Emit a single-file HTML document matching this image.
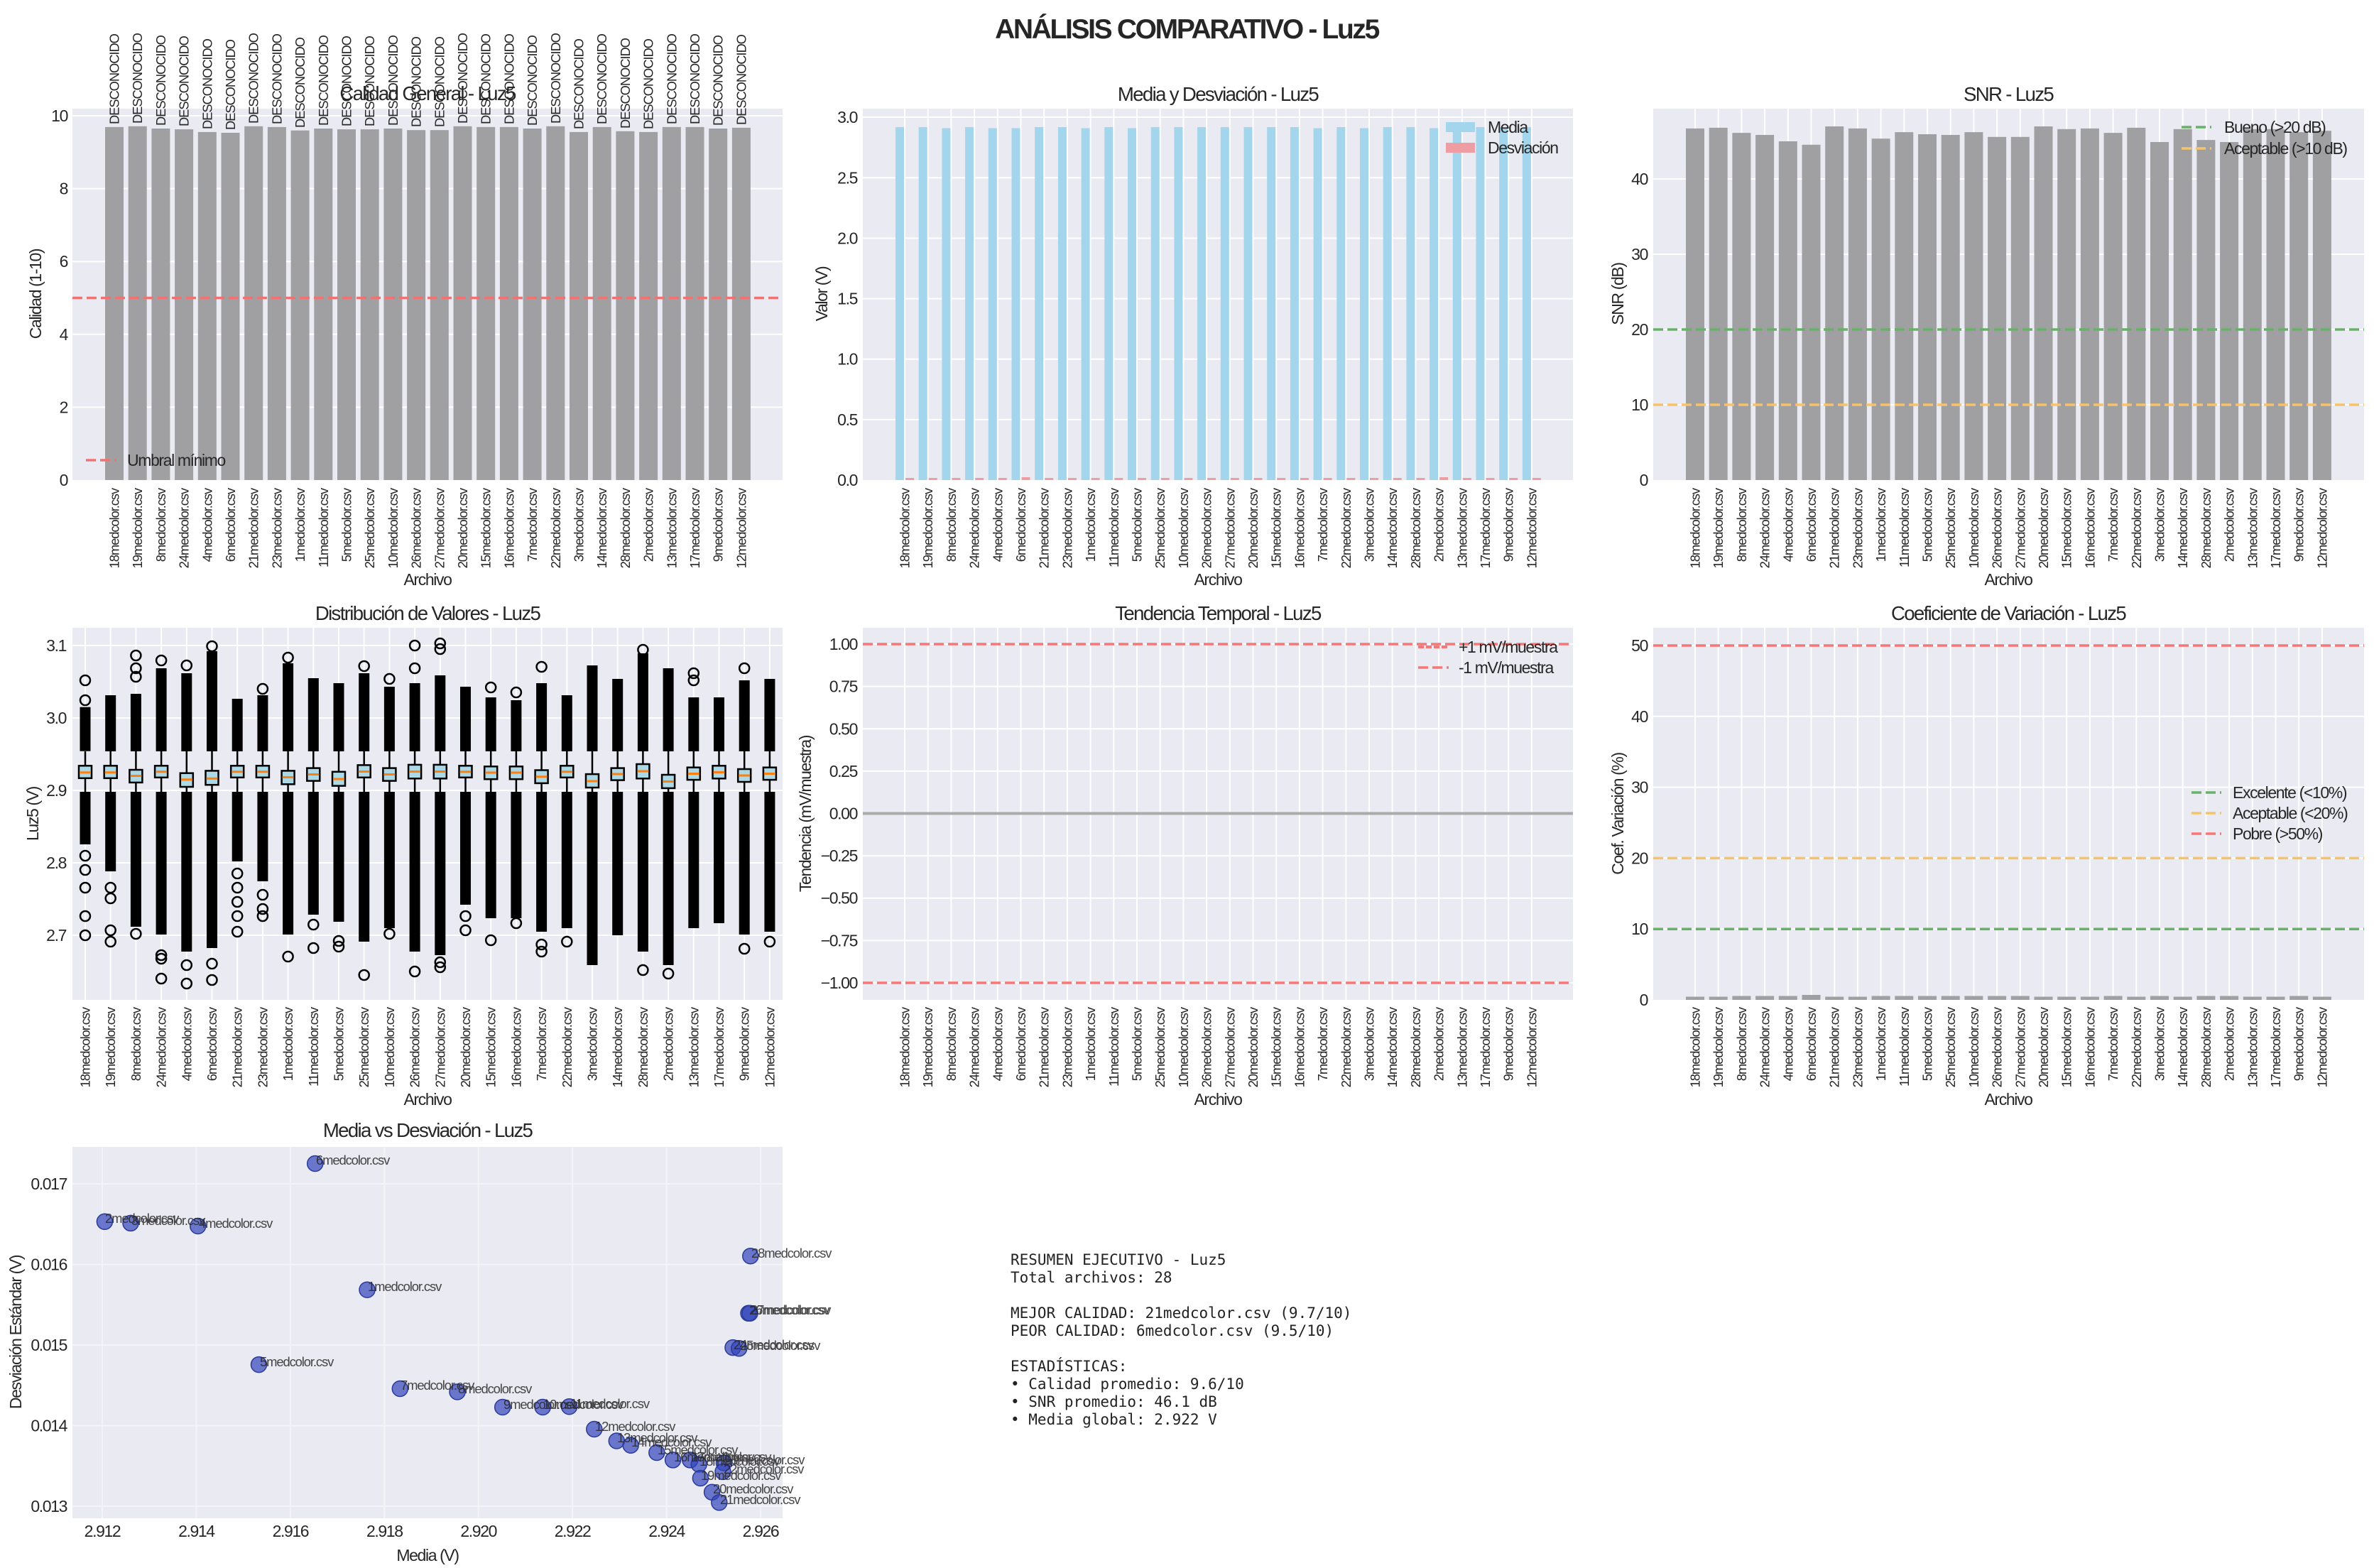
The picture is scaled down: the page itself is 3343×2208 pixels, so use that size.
<!DOCTYPE html>
<html><head><meta charset="utf-8"><style>
body{margin:0;background:#fff}
svg{display:block}
text{font-family:"Liberation Sans Narrow","Liberation Sans",sans-serif;fill:#262626;letter-spacing:-0.06em}
.tk{font-size:23px}
.yt{font-size:23px;text-anchor:end;dominant-baseline:central}
.xl{font-size:18.4px;text-anchor:end;dominant-baseline:central}
.dc{font-size:18.4px;text-anchor:start;dominant-baseline:central}
.ttl{font-size:27.6px;text-anchor:middle}
.lab{font-size:23px;text-anchor:middle}
.lg{font-size:23px;dominant-baseline:central}
.an{font-size:18.4px;fill:#555;opacity:.85}
.mono text{font-family:"DejaVu Sans Mono","Liberation Mono",monospace;font-size:21px;fill:#222;letter-spacing:0}
.g{stroke:#fff;stroke-width:2}
.bar{fill:#a0a0a3}
</style></head><body>
<svg width="3343" height="2208" viewBox="0 0 3343 2208" xmlns="http://www.w3.org/2000/svg">
<text x="1671" y="54" text-anchor="middle" style="font-size:39px;font-weight:bold">ANÁLISIS COMPARATIVO - Luz5</text>

<!-- ===== Panel A: Calidad ===== -->
<rect x="102" y="153" width="1000" height="523" fill="#eaeaf2"/>
<g class="g">
<line x1="102" x2="1102" y1="573.4" y2="573.4"/><line x1="102" x2="1102" y1="470.8" y2="470.8"/><line x1="102" x2="1102" y1="368.2" y2="368.2"/><line x1="102" x2="1102" y1="265.6" y2="265.6"/><line x1="102" x2="1102" y1="163" y2="163"/>
</g>
<g class="bar">
<rect x="148" y="178.9" width="26" height="497.1"/><rect x="180.7" y="177.8" width="26" height="498.2"/><rect x="213.4" y="181" width="26" height="495"/><rect x="246.1" y="182.1" width="26" height="493.9"/><rect x="278.8" y="185.9" width="26" height="490.1"/><rect x="311.5" y="187" width="26" height="489"/><rect x="344.2" y="177.8" width="26" height="498.2"/><rect x="376.9" y="178.9" width="26" height="497.1"/><rect x="409.6" y="183.7" width="26" height="492.3"/><rect x="442.3" y="181" width="26" height="495"/><rect x="475" y="182.1" width="26" height="493.9"/><rect x="507.7" y="182.1" width="26" height="493.9"/><rect x="540.4" y="181" width="26" height="495"/><rect x="573.1" y="183.2" width="26" height="492.8"/><rect x="605.8" y="183.2" width="26" height="492.8"/><rect x="638.5" y="177.8" width="26" height="498.2"/><rect x="671.2" y="178.9" width="26" height="497.1"/><rect x="703.9" y="178.9" width="26" height="497.1"/><rect x="736.6" y="181" width="26" height="495"/><rect x="769.3" y="177.8" width="26" height="498.2"/><rect x="802" y="185.9" width="26" height="490.1"/><rect x="834.7" y="178.9" width="26" height="497.1"/><rect x="867.4" y="184.8" width="26" height="491.2"/><rect x="900.1" y="185.9" width="26" height="490.1"/><rect x="932.8" y="178.9" width="26" height="497.1"/><rect x="965.5" y="178.9" width="26" height="497.1"/><rect x="998.2" y="181" width="26" height="495"/><rect x="1030.9" y="179.9" width="26" height="496.1"/>
</g>
<line x1="102" x2="1102" y1="419.5" y2="419.5" stroke="#f07272" stroke-width="3.5" stroke-dasharray="14,6"/>
<g class="dc">
<text transform="translate(161,175) rotate(-90)">DESCONOCIDO</text><text transform="translate(193.7,174) rotate(-90)">DESCONOCIDO</text><text transform="translate(226.4,177) rotate(-90)">DESCONOCIDO</text><text transform="translate(259.1,178) rotate(-90)">DESCONOCIDO</text><text transform="translate(291.8,182) rotate(-90)">DESCONOCIDO</text><text transform="translate(324.5,183) rotate(-90)">DESCONOCIDO</text><text transform="translate(357.2,174) rotate(-90)">DESCONOCIDO</text><text transform="translate(389.9,175) rotate(-90)">DESCONOCIDO</text><text transform="translate(422.6,180) rotate(-90)">DESCONOCIDO</text><text transform="translate(455.3,177) rotate(-90)">DESCONOCIDO</text><text transform="translate(488,178) rotate(-90)">DESCONOCIDO</text><text transform="translate(520.7,178) rotate(-90)">DESCONOCIDO</text><text transform="translate(553.4,177) rotate(-90)">DESCONOCIDO</text><text transform="translate(586.1,179) rotate(-90)">DESCONOCIDO</text><text transform="translate(618.8,179) rotate(-90)">DESCONOCIDO</text><text transform="translate(651.5,174) rotate(-90)">DESCONOCIDO</text><text transform="translate(684.2,175) rotate(-90)">DESCONOCIDO</text><text transform="translate(716.9,175) rotate(-90)">DESCONOCIDO</text><text transform="translate(749.6,177) rotate(-90)">DESCONOCIDO</text><text transform="translate(782.3,174) rotate(-90)">DESCONOCIDO</text><text transform="translate(815,182) rotate(-90)">DESCONOCIDO</text><text transform="translate(847.7,175) rotate(-90)">DESCONOCIDO</text><text transform="translate(880.4,181) rotate(-90)">DESCONOCIDO</text><text transform="translate(913.1,182) rotate(-90)">DESCONOCIDO</text><text transform="translate(945.8,175) rotate(-90)">DESCONOCIDO</text><text transform="translate(978.5,175) rotate(-90)">DESCONOCIDO</text><text transform="translate(1011.2,177) rotate(-90)">DESCONOCIDO</text><text transform="translate(1043.9,176) rotate(-90)">DESCONOCIDO</text>
</g>
<text class="ttl" x="602" y="141">Calidad General - Luz5</text>
<g class="yt"><text x="95" y="676">0</text><text x="95" y="573.4">2</text><text x="95" y="470.8">4</text><text x="95" y="368.2">6</text><text x="95" y="265.6">8</text><text x="95" y="163">10</text></g>
<text class="lab" transform="translate(50,414) rotate(-90)" dominant-baseline="central">Calidad (1-10)</text>
<text class="lab" x="602" y="824">Archivo</text>
<line x1="121" x2="164" y1="648" y2="648" stroke="#f07272" stroke-width="3.5" stroke-dasharray="14,6"/>
<text class="lg" x="179" y="648">Umbral mínimo</text>
<g class="xl">
<text transform="translate(161,688) rotate(-90)">18medcolor.csv</text><text transform="translate(193.7,688) rotate(-90)">19medcolor.csv</text><text transform="translate(226.4,688) rotate(-90)">8medcolor.csv</text><text transform="translate(259.1,688) rotate(-90)">24medcolor.csv</text><text transform="translate(291.8,688) rotate(-90)">4medcolor.csv</text><text transform="translate(324.5,688) rotate(-90)">6medcolor.csv</text><text transform="translate(357.2,688) rotate(-90)">21medcolor.csv</text><text transform="translate(389.9,688) rotate(-90)">23medcolor.csv</text><text transform="translate(422.6,688) rotate(-90)">1medcolor.csv</text><text transform="translate(455.3,688) rotate(-90)">11medcolor.csv</text><text transform="translate(488,688) rotate(-90)">5medcolor.csv</text><text transform="translate(520.7,688) rotate(-90)">25medcolor.csv</text><text transform="translate(553.4,688) rotate(-90)">10medcolor.csv</text><text transform="translate(586.1,688) rotate(-90)">26medcolor.csv</text><text transform="translate(618.8,688) rotate(-90)">27medcolor.csv</text><text transform="translate(651.5,688) rotate(-90)">20medcolor.csv</text><text transform="translate(684.2,688) rotate(-90)">15medcolor.csv</text><text transform="translate(716.9,688) rotate(-90)">16medcolor.csv</text><text transform="translate(749.6,688) rotate(-90)">7medcolor.csv</text><text transform="translate(782.3,688) rotate(-90)">22medcolor.csv</text><text transform="translate(815,688) rotate(-90)">3medcolor.csv</text><text transform="translate(847.7,688) rotate(-90)">14medcolor.csv</text><text transform="translate(880.4,688) rotate(-90)">28medcolor.csv</text><text transform="translate(913.1,688) rotate(-90)">2medcolor.csv</text><text transform="translate(945.8,688) rotate(-90)">13medcolor.csv</text><text transform="translate(978.5,688) rotate(-90)">17medcolor.csv</text><text transform="translate(1011.2,688) rotate(-90)">9medcolor.csv</text><text transform="translate(1043.9,688) rotate(-90)">12medcolor.csv</text>
</g>

<!-- ===== Panel B: Media y Desviación ===== -->
<rect x="1215" y="153" width="1000" height="523" fill="#eaeaf2"/>
<g class="g">
<line x1="1215" x2="2215" y1="590.9" y2="590.9"/><line x1="1215" x2="2215" y1="505.7" y2="505.7"/><line x1="1215" x2="2215" y1="420.6" y2="420.6"/><line x1="1215" x2="2215" y1="335.4" y2="335.4"/><line x1="1215" x2="2215" y1="250.3" y2="250.3"/><line x1="1215" x2="2215" y1="165" y2="165"/>
<line x1="1274" x2="1274" y1="153" y2="676"/><line x1="1306.7" x2="1306.7" y1="153" y2="676"/><line x1="1339.4" x2="1339.4" y1="153" y2="676"/><line x1="1372.1" x2="1372.1" y1="153" y2="676"/><line x1="1404.8" x2="1404.8" y1="153" y2="676"/><line x1="1437.5" x2="1437.5" y1="153" y2="676"/><line x1="1470.2" x2="1470.2" y1="153" y2="676"/><line x1="1502.9" x2="1502.9" y1="153" y2="676"/><line x1="1535.6" x2="1535.6" y1="153" y2="676"/><line x1="1568.3" x2="1568.3" y1="153" y2="676"/><line x1="1601" x2="1601" y1="153" y2="676"/><line x1="1633.7" x2="1633.7" y1="153" y2="676"/><line x1="1666.4" x2="1666.4" y1="153" y2="676"/><line x1="1699.1" x2="1699.1" y1="153" y2="676"/><line x1="1731.8" x2="1731.8" y1="153" y2="676"/><line x1="1764.5" x2="1764.5" y1="153" y2="676"/><line x1="1797.2" x2="1797.2" y1="153" y2="676"/><line x1="1829.9" x2="1829.9" y1="153" y2="676"/><line x1="1862.6" x2="1862.6" y1="153" y2="676"/><line x1="1895.3" x2="1895.3" y1="153" y2="676"/><line x1="1928" x2="1928" y1="153" y2="676"/><line x1="1960.7" x2="1960.7" y1="153" y2="676"/><line x1="1993.4" x2="1993.4" y1="153" y2="676"/><line x1="2026.1" x2="2026.1" y1="153" y2="676"/><line x1="2058.8" x2="2058.8" y1="153" y2="676"/><line x1="2091.5" x2="2091.5" y1="153" y2="676"/><line x1="2124.2" x2="2124.2" y1="153" y2="676"/><line x1="2156.9" x2="2156.9" y1="153" y2="676"/>
</g>
<g fill="#a3d5ec">
<rect x="1261" y="179" width="12" height="497"/><rect x="1293.7" y="179" width="12" height="497"/><rect x="1326.4" y="180.5" width="12" height="495.5"/><rect x="1359.1" y="179" width="12" height="497"/><rect x="1391.8" y="180.5" width="12" height="495.5"/><rect x="1424.5" y="180.5" width="12" height="495.5"/><rect x="1457.2" y="179" width="12" height="497"/><rect x="1489.9" y="179" width="12" height="497"/><rect x="1522.6" y="180.5" width="12" height="495.5"/><rect x="1555.3" y="179" width="12" height="497"/><rect x="1588" y="180.5" width="12" height="495.5"/><rect x="1620.7" y="179" width="12" height="497"/><rect x="1653.4" y="179" width="12" height="497"/><rect x="1686.1" y="179" width="12" height="497"/><rect x="1718.8" y="179" width="12" height="497"/><rect x="1751.5" y="179" width="12" height="497"/><rect x="1784.2" y="179" width="12" height="497"/><rect x="1816.9" y="179" width="12" height="497"/><rect x="1849.6" y="180.5" width="12" height="495.5"/><rect x="1882.3" y="179" width="12" height="497"/><rect x="1915" y="180.5" width="12" height="495.5"/><rect x="1947.7" y="179" width="12" height="497"/><rect x="1980.4" y="179" width="12" height="497"/><rect x="2013.1" y="180.5" width="12" height="495.5"/><rect x="2045.8" y="179" width="12" height="497"/><rect x="2078.5" y="179" width="12" height="497"/><rect x="2111.2" y="179" width="12" height="497"/><rect x="2143.9" y="179" width="12" height="497"/>
</g>
<g fill="#ee9ea2">
<rect x="1275" y="673" width="12" height="3"/><rect x="1307.7" y="673" width="12" height="3"/><rect x="1340.4" y="673" width="12" height="3"/><rect x="1373.1" y="673" width="12" height="3"/><rect x="1405.8" y="673" width="12" height="3"/><rect x="1438.5" y="672" width="12" height="4"/><rect x="1471.2" y="673" width="12" height="3"/><rect x="1503.9" y="673" width="12" height="3"/><rect x="1536.6" y="673" width="12" height="3"/><rect x="1569.3" y="673" width="12" height="3"/><rect x="1602" y="673" width="12" height="3"/><rect x="1634.7" y="673" width="12" height="3"/><rect x="1667.4" y="673" width="12" height="3"/><rect x="1700.1" y="673" width="12" height="3"/><rect x="1732.8" y="673" width="12" height="3"/><rect x="1765.5" y="673" width="12" height="3"/><rect x="1798.2" y="673" width="12" height="3"/><rect x="1830.9" y="673" width="12" height="3"/><rect x="1863.6" y="673" width="12" height="3"/><rect x="1896.3" y="673" width="12" height="3"/><rect x="1929" y="673" width="12" height="3"/><rect x="1961.7" y="673" width="12" height="3"/><rect x="1994.4" y="673" width="12" height="3"/><rect x="2027.1" y="672" width="12" height="4"/><rect x="2059.8" y="673" width="12" height="3"/><rect x="2092.5" y="673" width="12" height="3"/><rect x="2125.2" y="673" width="12" height="3"/><rect x="2157.9" y="673" width="12" height="3"/>
</g>
<text class="ttl" x="1715" y="142">Media y Desviación - Luz5</text>
<g class="yt"><text x="1207" y="676">0.0</text><text x="1207" y="590.9">0.5</text><text x="1207" y="505.7">1.0</text><text x="1207" y="420.6">1.5</text><text x="1207" y="335.4">2.0</text><text x="1207" y="250.3">2.5</text><text x="1207" y="165">3.0</text></g>
<text class="lab" transform="translate(1157,414) rotate(-90)" dominant-baseline="central">Valor (V)</text>
<text class="lab" x="1715" y="824">Archivo</text>
<rect x="2036" y="172" width="41" height="14" fill="#a3d5ec"/><text class="lg" x="2095" y="179">Media</text>
<rect x="2036" y="201" width="41" height="14" fill="#ee9ea2"/><text class="lg" x="2095" y="208">Desviación</text>
<g class="xl">
<text transform="translate(1274,688) rotate(-90)">18medcolor.csv</text><text transform="translate(1306.7,688) rotate(-90)">19medcolor.csv</text><text transform="translate(1339.4,688) rotate(-90)">8medcolor.csv</text><text transform="translate(1372.1,688) rotate(-90)">24medcolor.csv</text><text transform="translate(1404.8,688) rotate(-90)">4medcolor.csv</text><text transform="translate(1437.5,688) rotate(-90)">6medcolor.csv</text><text transform="translate(1470.2,688) rotate(-90)">21medcolor.csv</text><text transform="translate(1502.9,688) rotate(-90)">23medcolor.csv</text><text transform="translate(1535.6,688) rotate(-90)">1medcolor.csv</text><text transform="translate(1568.3,688) rotate(-90)">11medcolor.csv</text><text transform="translate(1601,688) rotate(-90)">5medcolor.csv</text><text transform="translate(1633.7,688) rotate(-90)">25medcolor.csv</text><text transform="translate(1666.4,688) rotate(-90)">10medcolor.csv</text><text transform="translate(1699.1,688) rotate(-90)">26medcolor.csv</text><text transform="translate(1731.8,688) rotate(-90)">27medcolor.csv</text><text transform="translate(1764.5,688) rotate(-90)">20medcolor.csv</text><text transform="translate(1797.2,688) rotate(-90)">15medcolor.csv</text><text transform="translate(1829.9,688) rotate(-90)">16medcolor.csv</text><text transform="translate(1862.6,688) rotate(-90)">7medcolor.csv</text><text transform="translate(1895.3,688) rotate(-90)">22medcolor.csv</text><text transform="translate(1928,688) rotate(-90)">3medcolor.csv</text><text transform="translate(1960.7,688) rotate(-90)">14medcolor.csv</text><text transform="translate(1993.4,688) rotate(-90)">28medcolor.csv</text><text transform="translate(2026.1,688) rotate(-90)">2medcolor.csv</text><text transform="translate(2058.8,688) rotate(-90)">13medcolor.csv</text><text transform="translate(2091.5,688) rotate(-90)">17medcolor.csv</text><text transform="translate(2124.2,688) rotate(-90)">9medcolor.csv</text><text transform="translate(2156.9,688) rotate(-90)">12medcolor.csv</text>
</g>

<!-- ===== Panel C: SNR ===== -->
<rect x="2328" y="153" width="1001" height="523" fill="#eaeaf2"/>
<g class="g">
<line x1="2328" x2="3329" y1="570" y2="570"/><line x1="2328" x2="3329" y1="464" y2="464"/><line x1="2328" x2="3329" y1="358" y2="358"/><line x1="2328" x2="3329" y1="252" y2="252"/>
<line x1="2387" x2="2387" y1="153" y2="676"/><line x1="2419.7" x2="2419.7" y1="153" y2="676"/><line x1="2452.4" x2="2452.4" y1="153" y2="676"/><line x1="2485.1" x2="2485.1" y1="153" y2="676"/><line x1="2517.8" x2="2517.8" y1="153" y2="676"/><line x1="2550.5" x2="2550.5" y1="153" y2="676"/><line x1="2583.2" x2="2583.2" y1="153" y2="676"/><line x1="2615.9" x2="2615.9" y1="153" y2="676"/><line x1="2648.6" x2="2648.6" y1="153" y2="676"/><line x1="2681.3" x2="2681.3" y1="153" y2="676"/><line x1="2714" x2="2714" y1="153" y2="676"/><line x1="2746.7" x2="2746.7" y1="153" y2="676"/><line x1="2779.4" x2="2779.4" y1="153" y2="676"/><line x1="2812.1" x2="2812.1" y1="153" y2="676"/><line x1="2844.8" x2="2844.8" y1="153" y2="676"/><line x1="2877.5" x2="2877.5" y1="153" y2="676"/><line x1="2910.2" x2="2910.2" y1="153" y2="676"/><line x1="2942.9" x2="2942.9" y1="153" y2="676"/><line x1="2975.6" x2="2975.6" y1="153" y2="676"/><line x1="3008.3" x2="3008.3" y1="153" y2="676"/><line x1="3041" x2="3041" y1="153" y2="676"/><line x1="3073.7" x2="3073.7" y1="153" y2="676"/><line x1="3106.4" x2="3106.4" y1="153" y2="676"/><line x1="3139.1" x2="3139.1" y1="153" y2="676"/><line x1="3171.8" x2="3171.8" y1="153" y2="676"/><line x1="3204.5" x2="3204.5" y1="153" y2="676"/><line x1="3237.2" x2="3237.2" y1="153" y2="676"/><line x1="3269.9" x2="3269.9" y1="153" y2="676"/>
</g>
<g class="bar">
<rect x="2374" y="180.9" width="26" height="495.1"/><rect x="2406.7" y="179.9" width="26" height="496.1"/><rect x="2439.4" y="187.1" width="26" height="488.9"/><rect x="2472.1" y="190" width="26" height="486"/><rect x="2504.8" y="199" width="26" height="477"/><rect x="2537.5" y="203.8" width="26" height="472.2"/><rect x="2570.2" y="178" width="26" height="498"/><rect x="2602.9" y="180.9" width="26" height="495.1"/><rect x="2635.6" y="195.2" width="26" height="480.8"/><rect x="2668.3" y="186.1" width="26" height="489.9"/><rect x="2701" y="189" width="26" height="487"/><rect x="2733.7" y="190" width="26" height="486"/><rect x="2766.4" y="186.1" width="26" height="489.9"/><rect x="2799.1" y="192.8" width="26" height="483.2"/><rect x="2831.8" y="192.8" width="26" height="483.2"/><rect x="2864.5" y="178" width="26" height="498"/><rect x="2897.2" y="181.8" width="26" height="494.2"/><rect x="2929.9" y="180.9" width="26" height="495.1"/><rect x="2962.6" y="187.1" width="26" height="488.9"/><rect x="2995.3" y="179.9" width="26" height="496.1"/><rect x="3028" y="200" width="26" height="476"/><rect x="3060.7" y="181.8" width="26" height="494.2"/><rect x="3093.4" y="197.1" width="26" height="478.9"/><rect x="3126.1" y="200" width="26" height="476"/><rect x="3158.8" y="181.8" width="26" height="494.2"/><rect x="3191.5" y="181.8" width="26" height="494.2"/><rect x="3224.2" y="186.1" width="26" height="489.9"/><rect x="3256.9" y="184.2" width="26" height="491.8"/>
</g>
<line x1="2328" x2="3329" y1="464" y2="464" stroke="#66b266" stroke-width="3.5" stroke-dasharray="14,6"/>
<line x1="2328" x2="3329" y1="570" y2="570" stroke="#f6c36b" stroke-width="3.5" stroke-dasharray="14,6"/>
<text class="ttl" x="2828" y="142">SNR - Luz5</text>
<g class="yt"><text x="2320" y="676">0</text><text x="2320" y="570">10</text><text x="2320" y="464">20</text><text x="2320" y="358">30</text><text x="2320" y="252">40</text></g>
<text class="lab" transform="translate(2278,414) rotate(-90)" dominant-baseline="central">SNR (dB)</text>
<text class="lab" x="2828" y="824">Archivo</text>
<line x1="3072" x2="3114" y1="179" y2="179" stroke="#66b266" stroke-width="3.5" stroke-dasharray="14,6"/><text class="lg" x="3132" y="179">Bueno (&gt;20 dB)</text>
<line x1="3072" x2="3114" y1="209" y2="209" stroke="#f6c36b" stroke-width="3.5" stroke-dasharray="14,6"/><text class="lg" x="3132" y="209">Aceptable (&gt;10 dB)</text>
<g class="xl">
<text transform="translate(2387,688) rotate(-90)">18medcolor.csv</text><text transform="translate(2419.7,688) rotate(-90)">19medcolor.csv</text><text transform="translate(2452.4,688) rotate(-90)">8medcolor.csv</text><text transform="translate(2485.1,688) rotate(-90)">24medcolor.csv</text><text transform="translate(2517.8,688) rotate(-90)">4medcolor.csv</text><text transform="translate(2550.5,688) rotate(-90)">6medcolor.csv</text><text transform="translate(2583.2,688) rotate(-90)">21medcolor.csv</text><text transform="translate(2615.9,688) rotate(-90)">23medcolor.csv</text><text transform="translate(2648.6,688) rotate(-90)">1medcolor.csv</text><text transform="translate(2681.3,688) rotate(-90)">11medcolor.csv</text><text transform="translate(2714,688) rotate(-90)">5medcolor.csv</text><text transform="translate(2746.7,688) rotate(-90)">25medcolor.csv</text><text transform="translate(2779.4,688) rotate(-90)">10medcolor.csv</text><text transform="translate(2812.1,688) rotate(-90)">26medcolor.csv</text><text transform="translate(2844.8,688) rotate(-90)">27medcolor.csv</text><text transform="translate(2877.5,688) rotate(-90)">20medcolor.csv</text><text transform="translate(2910.2,688) rotate(-90)">15medcolor.csv</text><text transform="translate(2942.9,688) rotate(-90)">16medcolor.csv</text><text transform="translate(2975.6,688) rotate(-90)">7medcolor.csv</text><text transform="translate(3008.3,688) rotate(-90)">22medcolor.csv</text><text transform="translate(3041,688) rotate(-90)">3medcolor.csv</text><text transform="translate(3073.7,688) rotate(-90)">14medcolor.csv</text><text transform="translate(3106.4,688) rotate(-90)">28medcolor.csv</text><text transform="translate(3139.1,688) rotate(-90)">2medcolor.csv</text><text transform="translate(3171.8,688) rotate(-90)">13medcolor.csv</text><text transform="translate(3204.5,688) rotate(-90)">17medcolor.csv</text><text transform="translate(3237.2,688) rotate(-90)">9medcolor.csv</text><text transform="translate(3269.9,688) rotate(-90)">12medcolor.csv</text>
</g>

<!-- ===== Panel D: Boxplots ===== -->
<rect x="102" y="884" width="1000" height="524" fill="#eaeaf2"/>
<g class="g">
<line x1="102" x2="1102" y1="1317" y2="1317"/><line x1="102" x2="1102" y1="1215" y2="1215"/><line x1="102" x2="1102" y1="1113" y2="1113"/><line x1="102" x2="1102" y1="1011" y2="1011"/><line x1="102" x2="1102" y1="909" y2="909"/>
<line x1="120" x2="120" y1="884" y2="1408"/><line x1="155.7" x2="155.7" y1="884" y2="1408"/><line x1="191.4" x2="191.4" y1="884" y2="1408"/><line x1="227.1" x2="227.1" y1="884" y2="1408"/><line x1="262.8" x2="262.8" y1="884" y2="1408"/><line x1="298.5" x2="298.5" y1="884" y2="1408"/><line x1="334.2" x2="334.2" y1="884" y2="1408"/><line x1="369.9" x2="369.9" y1="884" y2="1408"/><line x1="405.6" x2="405.6" y1="884" y2="1408"/><line x1="441.3" x2="441.3" y1="884" y2="1408"/><line x1="477" x2="477" y1="884" y2="1408"/><line x1="512.7" x2="512.7" y1="884" y2="1408"/><line x1="548.4" x2="548.4" y1="884" y2="1408"/><line x1="584.1" x2="584.1" y1="884" y2="1408"/><line x1="619.8" x2="619.8" y1="884" y2="1408"/><line x1="655.5" x2="655.5" y1="884" y2="1408"/><line x1="691.2" x2="691.2" y1="884" y2="1408"/><line x1="726.9" x2="726.9" y1="884" y2="1408"/><line x1="762.6" x2="762.6" y1="884" y2="1408"/><line x1="798.3" x2="798.3" y1="884" y2="1408"/><line x1="834" x2="834" y1="884" y2="1408"/><line x1="869.7" x2="869.7" y1="884" y2="1408"/><line x1="905.4" x2="905.4" y1="884" y2="1408"/><line x1="941.1" x2="941.1" y1="884" y2="1408"/><line x1="976.8" x2="976.8" y1="884" y2="1408"/><line x1="1012.5" x2="1012.5" y1="884" y2="1408"/><line x1="1048.2" x2="1048.2" y1="884" y2="1408"/><line x1="1083.9" x2="1083.9" y1="884" y2="1408"/>
</g>
<g fill="#000">
<rect x="112.5" y="995.7" width="15" height="62"/><rect x="112.5" y="1115" width="15" height="74"/>
<rect x="148.2" y="979" width="15" height="79"/><rect x="148.2" y="1115" width="15" height="112"/>
<rect x="183.9" y="977" width="15" height="81"/><rect x="183.9" y="1115" width="15" height="190"/>
<rect x="219.6" y="941" width="15" height="117"/><rect x="219.6" y="1115" width="15" height="201"/>
<rect x="255.3" y="948" width="15" height="110"/><rect x="255.3" y="1115" width="15" height="225"/>
<rect x="291" y="917" width="15" height="141"/><rect x="291" y="1115" width="15" height="220"/>
<rect x="326.7" y="984" width="15" height="74"/><rect x="326.7" y="1115" width="15" height="98"/>
<rect x="362.4" y="979" width="15" height="79"/><rect x="362.4" y="1115" width="15" height="126"/>
<rect x="398.1" y="934" width="15" height="124"/><rect x="398.1" y="1115" width="15" height="201"/>
<rect x="433.8" y="955" width="15" height="103"/><rect x="433.8" y="1115" width="15" height="173"/>
<rect x="469.5" y="962" width="15" height="96"/><rect x="469.5" y="1115" width="15" height="183"/>
<rect x="505.2" y="948" width="15" height="110"/><rect x="505.2" y="1115" width="15" height="211"/>
<rect x="540.9" y="967" width="15" height="91"/><rect x="540.9" y="1115" width="15" height="192"/>
<rect x="576.6" y="962" width="15" height="96"/><rect x="576.6" y="1115" width="15" height="225"/>
<rect x="612.3" y="951" width="15" height="107"/><rect x="612.3" y="1115" width="15" height="230"/>
<rect x="648" y="967" width="15" height="91"/><rect x="648" y="1115" width="15" height="159"/>
<rect x="683.7" y="982" width="15" height="76"/><rect x="683.7" y="1115" width="15" height="178"/>
<rect x="719.4" y="986" width="15" height="72"/><rect x="719.4" y="1115" width="15" height="178"/>
<rect x="755.1" y="962" width="15" height="96"/><rect x="755.1" y="1115" width="15" height="197"/>
<rect x="790.8" y="979" width="15" height="79"/><rect x="790.8" y="1115" width="15" height="192"/>
<rect x="826.5" y="937" width="15" height="121"/><rect x="826.5" y="1115" width="15" height="244"/>
<rect x="862.2" y="956" width="15" height="102"/><rect x="862.2" y="1115" width="15" height="202"/>
<rect x="897.9" y="920" width="15" height="138"/><rect x="897.9" y="1115" width="15" height="225"/>
<rect x="933.6" y="941" width="15" height="117"/><rect x="933.6" y="1115" width="15" height="244"/>
<rect x="969.3" y="982" width="15" height="76"/><rect x="969.3" y="1115" width="15" height="192"/>
<rect x="1005" y="982" width="15" height="76"/><rect x="1005" y="1115" width="15" height="185"/>
<rect x="1040.7" y="958" width="15" height="100"/><rect x="1040.7" y="1115" width="15" height="201"/>
<rect x="1076.4" y="956" width="15" height="102"/><rect x="1076.4" y="1115" width="15" height="197"/>
</g>
<g fill="none" stroke="#000" stroke-width="2.5">
<circle cx="120" cy="986" r="7"/><circle cx="120" cy="958" r="7"/><circle cx="120" cy="1205" r="7"/><circle cx="120" cy="1225" r="7"/><circle cx="120" cy="1250" r="7"/><circle cx="120" cy="1290" r="7"/><circle cx="120" cy="1317" r="7"/>
<circle cx="155.7" cy="1250" r="7"/><circle cx="155.7" cy="1265" r="7"/><circle cx="155.7" cy="1310" r="7"/><circle cx="155.7" cy="1326" r="7"/>
<circle cx="191.4" cy="923" r="7"/><circle cx="191.4" cy="941" r="7"/><circle cx="191.4" cy="953" r="7"/><circle cx="191.4" cy="1315" r="7"/>
<circle cx="227.1" cy="930" r="7"/><circle cx="227.1" cy="1345" r="7"/><circle cx="227.1" cy="1350" r="7"/><circle cx="227.1" cy="1378" r="7"/>
<circle cx="262.8" cy="937" r="7"/><circle cx="262.8" cy="1359" r="7"/><circle cx="262.8" cy="1385" r="7"/>
<circle cx="298.5" cy="910" r="7"/><circle cx="298.5" cy="1357" r="7"/><circle cx="298.5" cy="1380" r="7"/>
<circle cx="334.2" cy="1230" r="7"/><circle cx="334.2" cy="1250" r="7"/><circle cx="334.2" cy="1270" r="7"/><circle cx="334.2" cy="1290" r="7"/><circle cx="334.2" cy="1312" r="7"/>
<circle cx="369.9" cy="970" r="7"/><circle cx="369.9" cy="1260" r="7"/><circle cx="369.9" cy="1280" r="7"/><circle cx="369.9" cy="1290" r="7"/>
<circle cx="405.6" cy="926" r="7"/><circle cx="405.6" cy="1347" r="7"/>
<circle cx="441.3" cy="1302" r="7"/><circle cx="441.3" cy="1335" r="7"/>
<circle cx="477" cy="1325" r="7"/><circle cx="477" cy="1333" r="7"/>
<circle cx="512.7" cy="938" r="7"/><circle cx="512.7" cy="1373" r="7"/>
<circle cx="548.4" cy="956" r="7"/><circle cx="548.4" cy="1315" r="7"/>
<circle cx="584.1" cy="941" r="7"/><circle cx="584.1" cy="909" r="7"/><circle cx="584.1" cy="1368" r="7"/>
<circle cx="619.8" cy="906" r="7"/><circle cx="619.8" cy="914" r="7"/><circle cx="619.8" cy="1355" r="7"/><circle cx="619.8" cy="1362" r="7"/>
<circle cx="655.5" cy="1290" r="7"/><circle cx="655.5" cy="1310" r="7"/>
<circle cx="691.2" cy="968" r="7"/><circle cx="691.2" cy="1324" r="7"/>
<circle cx="726.9" cy="975" r="7"/><circle cx="726.9" cy="1300" r="7"/>
<circle cx="762.6" cy="939" r="7"/><circle cx="762.6" cy="1330" r="7"/><circle cx="762.6" cy="1340" r="7"/>
<circle cx="798.3" cy="1326" r="7"/>
<circle cx="905.4" cy="915" r="7"/><circle cx="905.4" cy="1366" r="7"/>
<circle cx="941.1" cy="1371" r="7"/>
<circle cx="976.8" cy="948" r="7"/><circle cx="976.8" cy="958" r="7"/>
<circle cx="1048.2" cy="941" r="7"/><circle cx="1048.2" cy="1336" r="7"/>
<circle cx="1083.9" cy="1326" r="7"/>
</g>
<g stroke="#000" stroke-width="2.5">
<line x1="120" x2="120" y1="1058" y2="1079"/><line x1="120" x2="120" y1="1095" y2="1116"/>
<line x1="155.7" x2="155.7" y1="1058" y2="1079"/><line x1="155.7" x2="155.7" y1="1095" y2="1116"/>
<line x1="191.4" x2="191.4" y1="1058" y2="1084"/><line x1="191.4" x2="191.4" y1="1101" y2="1116"/>
<line x1="227.1" x2="227.1" y1="1058" y2="1079"/><line x1="227.1" x2="227.1" y1="1095" y2="1116"/>
<line x1="262.8" x2="262.8" y1="1058" y2="1089"/><line x1="262.8" x2="262.8" y1="1108" y2="1116"/>
<line x1="298.5" x2="298.5" y1="1058" y2="1085"/><line x1="298.5" x2="298.5" y1="1105" y2="1116"/>
<line x1="334.2" x2="334.2" y1="1058" y2="1079"/><line x1="334.2" x2="334.2" y1="1095" y2="1116"/>
<line x1="369.9" x2="369.9" y1="1058" y2="1079"/><line x1="369.9" x2="369.9" y1="1095" y2="1116"/>
<line x1="405.6" x2="405.6" y1="1058" y2="1085"/><line x1="405.6" x2="405.6" y1="1104" y2="1116"/>
<line x1="441.3" x2="441.3" y1="1058" y2="1082"/><line x1="441.3" x2="441.3" y1="1099" y2="1116"/>
<line x1="477" x2="477" y1="1058" y2="1087"/><line x1="477" x2="477" y1="1106" y2="1116"/>
<line x1="512.7" x2="512.7" y1="1058" y2="1077"/><line x1="512.7" x2="512.7" y1="1095" y2="1116"/>
<line x1="548.4" x2="548.4" y1="1058" y2="1082"/><line x1="548.4" x2="548.4" y1="1099" y2="1116"/>
<line x1="584.1" x2="584.1" y1="1058" y2="1077"/><line x1="584.1" x2="584.1" y1="1096" y2="1116"/>
<line x1="619.8" x2="619.8" y1="1058" y2="1077"/><line x1="619.8" x2="619.8" y1="1096" y2="1116"/>
<line x1="655.5" x2="655.5" y1="1058" y2="1079"/><line x1="655.5" x2="655.5" y1="1095" y2="1116"/>
<line x1="691.2" x2="691.2" y1="1058" y2="1079"/><line x1="691.2" x2="691.2" y1="1097" y2="1116"/>
<line x1="726.9" x2="726.9" y1="1058" y2="1079"/><line x1="726.9" x2="726.9" y1="1097" y2="1116"/>
<line x1="762.6" x2="762.6" y1="1058" y2="1085"/><line x1="762.6" x2="762.6" y1="1103" y2="1116"/>
<line x1="798.3" x2="798.3" y1="1058" y2="1079"/><line x1="798.3" x2="798.3" y1="1095" y2="1116"/>
<line x1="834" x2="834" y1="1058" y2="1090"/><line x1="834" x2="834" y1="1109" y2="1116"/>
<line x1="869.7" x2="869.7" y1="1058" y2="1082"/><line x1="869.7" x2="869.7" y1="1099" y2="1116"/>
<line x1="905.4" x2="905.4" y1="1058" y2="1076"/><line x1="905.4" x2="905.4" y1="1096" y2="1116"/>
<line x1="941.1" x2="941.1" y1="1058" y2="1091"/><line x1="941.1" x2="941.1" y1="1110" y2="1116"/>
<line x1="976.8" x2="976.8" y1="1058" y2="1081"/><line x1="976.8" x2="976.8" y1="1098" y2="1116"/>
<line x1="1012.5" x2="1012.5" y1="1058" y2="1079"/><line x1="1012.5" x2="1012.5" y1="1096" y2="1116"/>
<line x1="1048.2" x2="1048.2" y1="1058" y2="1083"/><line x1="1048.2" x2="1048.2" y1="1101" y2="1116"/>
<line x1="1083.9" x2="1083.9" y1="1058" y2="1081"/><line x1="1083.9" x2="1083.9" y1="1098" y2="1116"/>
</g>
<g fill="#add8e6" stroke="#000" stroke-width="2.5">
<rect x="111" y="1078.3" width="18" height="17.5"/><rect x="146.7" y="1078.3" width="18" height="17.5"/><rect x="182.4" y="1084" width="18" height="17.9"/><rect x="218.1" y="1078.3" width="18" height="16.5"/><rect x="253.8" y="1088.7" width="18" height="19.3"/><rect x="289.5" y="1085.4" width="18" height="19.8"/><rect x="325.2" y="1078.3" width="18" height="16.5"/><rect x="360.9" y="1078.3" width="18" height="16.5"/><rect x="396.6" y="1085.4" width="18" height="18.9"/><rect x="432.3" y="1081.6" width="18" height="18"/><rect x="468" y="1086.8" width="18" height="19.8"/><rect x="503.7" y="1077.4" width="18" height="17.4"/><rect x="539.4" y="1081.6" width="18" height="18"/><rect x="575.1" y="1076.9" width="18" height="19.4"/><rect x="610.8" y="1076.9" width="18" height="19.4"/><rect x="646.5" y="1078.3" width="18" height="16.5"/><rect x="682.2" y="1079.3" width="18" height="17.9"/><rect x="717.9" y="1079.3" width="18" height="17.9"/><rect x="753.6" y="1084.5" width="18" height="18.4"/><rect x="789.3" y="1078.3" width="18" height="16.5"/><rect x="825" y="1090.1" width="18" height="18.9"/><rect x="860.7" y="1081.6" width="18" height="17"/><rect x="896.4" y="1076" width="18" height="20.3"/><rect x="932.1" y="1091" width="18" height="18.9"/><rect x="967.8" y="1080.7" width="18" height="17.4"/><rect x="1003.5" y="1078.3" width="18" height="18"/><rect x="1039.2" y="1083" width="18" height="18"/><rect x="1074.9" y="1080.7" width="18" height="17.4"/>
</g>
<g stroke="#ff7f0e" stroke-width="3">
<line x1="112" x2="128" y1="1087.8" y2="1087.8"/><line x1="147.7" x2="163.7" y1="1087.8" y2="1087.8"/><line x1="183.4" x2="199.4" y1="1092.5" y2="1092.5"/><line x1="219.1" x2="235.1" y1="1086.8" y2="1086.8"/><line x1="254.8" x2="270.8" y1="1097.7" y2="1097.7"/><line x1="290.5" x2="306.5" y1="1096.3" y2="1096.3"/><line x1="326.2" x2="342.2" y1="1086.8" y2="1086.8"/><line x1="361.9" x2="377.9" y1="1086.8" y2="1086.8"/><line x1="397.6" x2="413.6" y1="1094.5" y2="1094.5"/><line x1="433.3" x2="449.3" y1="1090.5" y2="1090.5"/><line x1="469" x2="485" y1="1097" y2="1097"/><line x1="504.7" x2="520.7" y1="1086.5" y2="1086.5"/><line x1="540.4" x2="556.4" y1="1090.5" y2="1090.5"/><line x1="576.1" x2="592.1" y1="1086.5" y2="1086.5"/><line x1="611.8" x2="627.8" y1="1086.5" y2="1086.5"/><line x1="647.5" x2="663.5" y1="1086.8" y2="1086.8"/><line x1="683.2" x2="699.2" y1="1088" y2="1088"/><line x1="718.9" x2="734.9" y1="1088" y2="1088"/><line x1="754.6" x2="770.6" y1="1093.8" y2="1093.8"/><line x1="790.3" x2="806.3" y1="1086.8" y2="1086.8"/><line x1="826" x2="842" y1="1100" y2="1100"/><line x1="861.7" x2="877.7" y1="1090" y2="1090"/><line x1="897.4" x2="913.4" y1="1086" y2="1086"/><line x1="933.1" x2="949.1" y1="1100.5" y2="1100.5"/><line x1="968.8" x2="984.8" y1="1089.5" y2="1089.5"/><line x1="1004.5" x2="1020.5" y1="1087.5" y2="1087.5"/><line x1="1040.2" x2="1056.2" y1="1092" y2="1092"/><line x1="1075.9" x2="1091.9" y1="1089.5" y2="1089.5"/>
</g>
<text class="ttl" x="602" y="873">Distribución de Valores - Luz5</text>
<g class="yt"><text x="93" y="1317">2.7</text><text x="93" y="1215">2.8</text><text x="93" y="1113">2.9</text><text x="93" y="1011">3.0</text><text x="93" y="909">3.1</text></g>
<text class="lab" transform="translate(46,1146) rotate(-90)" dominant-baseline="central">Luz5 (V)</text>
<text class="lab" x="602" y="1556">Archivo</text>
<g class="xl">
<text transform="translate(120,1419) rotate(-90)">18medcolor.csv</text><text transform="translate(155.7,1419) rotate(-90)">19medcolor.csv</text><text transform="translate(191.4,1419) rotate(-90)">8medcolor.csv</text><text transform="translate(227.1,1419) rotate(-90)">24medcolor.csv</text><text transform="translate(262.8,1419) rotate(-90)">4medcolor.csv</text><text transform="translate(298.5,1419) rotate(-90)">6medcolor.csv</text><text transform="translate(334.2,1419) rotate(-90)">21medcolor.csv</text><text transform="translate(369.9,1419) rotate(-90)">23medcolor.csv</text><text transform="translate(405.6,1419) rotate(-90)">1medcolor.csv</text><text transform="translate(441.3,1419) rotate(-90)">11medcolor.csv</text><text transform="translate(477,1419) rotate(-90)">5medcolor.csv</text><text transform="translate(512.7,1419) rotate(-90)">25medcolor.csv</text><text transform="translate(548.4,1419) rotate(-90)">10medcolor.csv</text><text transform="translate(584.1,1419) rotate(-90)">26medcolor.csv</text><text transform="translate(619.8,1419) rotate(-90)">27medcolor.csv</text><text transform="translate(655.5,1419) rotate(-90)">20medcolor.csv</text><text transform="translate(691.2,1419) rotate(-90)">15medcolor.csv</text><text transform="translate(726.9,1419) rotate(-90)">16medcolor.csv</text><text transform="translate(762.6,1419) rotate(-90)">7medcolor.csv</text><text transform="translate(798.3,1419) rotate(-90)">22medcolor.csv</text><text transform="translate(834,1419) rotate(-90)">3medcolor.csv</text><text transform="translate(869.7,1419) rotate(-90)">14medcolor.csv</text><text transform="translate(905.4,1419) rotate(-90)">28medcolor.csv</text><text transform="translate(941.1,1419) rotate(-90)">2medcolor.csv</text><text transform="translate(976.8,1419) rotate(-90)">13medcolor.csv</text><text transform="translate(1012.5,1419) rotate(-90)">17medcolor.csv</text><text transform="translate(1048.2,1419) rotate(-90)">9medcolor.csv</text><text transform="translate(1083.9,1419) rotate(-90)">12medcolor.csv</text>
</g>

<!-- ===== Panel E: Tendencia ===== -->
<rect x="1215" y="884" width="1000" height="524" fill="#eaeaf2"/>
<g class="g">
<line x1="1215" x2="2215" y1="907" y2="907"/><line x1="1215" x2="2215" y1="966.6" y2="966.6"/><line x1="1215" x2="2215" y1="1026.3" y2="1026.3"/><line x1="1215" x2="2215" y1="1085.9" y2="1085.9"/><line x1="1215" x2="2215" y1="1205.1" y2="1205.1"/><line x1="1215" x2="2215" y1="1264.7" y2="1264.7"/><line x1="1215" x2="2215" y1="1324.4" y2="1324.4"/><line x1="1215" x2="2215" y1="1384" y2="1384"/>
<line x1="1274" x2="1274" y1="884" y2="1408"/><line x1="1306.7" x2="1306.7" y1="884" y2="1408"/><line x1="1339.4" x2="1339.4" y1="884" y2="1408"/><line x1="1372.1" x2="1372.1" y1="884" y2="1408"/><line x1="1404.8" x2="1404.8" y1="884" y2="1408"/><line x1="1437.5" x2="1437.5" y1="884" y2="1408"/><line x1="1470.2" x2="1470.2" y1="884" y2="1408"/><line x1="1502.9" x2="1502.9" y1="884" y2="1408"/><line x1="1535.6" x2="1535.6" y1="884" y2="1408"/><line x1="1568.3" x2="1568.3" y1="884" y2="1408"/><line x1="1601" x2="1601" y1="884" y2="1408"/><line x1="1633.7" x2="1633.7" y1="884" y2="1408"/><line x1="1666.4" x2="1666.4" y1="884" y2="1408"/><line x1="1699.1" x2="1699.1" y1="884" y2="1408"/><line x1="1731.8" x2="1731.8" y1="884" y2="1408"/><line x1="1764.5" x2="1764.5" y1="884" y2="1408"/><line x1="1797.2" x2="1797.2" y1="884" y2="1408"/><line x1="1829.9" x2="1829.9" y1="884" y2="1408"/><line x1="1862.6" x2="1862.6" y1="884" y2="1408"/><line x1="1895.3" x2="1895.3" y1="884" y2="1408"/><line x1="1928" x2="1928" y1="884" y2="1408"/><line x1="1960.7" x2="1960.7" y1="884" y2="1408"/><line x1="1993.4" x2="1993.4" y1="884" y2="1408"/><line x1="2026.1" x2="2026.1" y1="884" y2="1408"/><line x1="2058.8" x2="2058.8" y1="884" y2="1408"/><line x1="2091.5" x2="2091.5" y1="884" y2="1408"/><line x1="2124.2" x2="2124.2" y1="884" y2="1408"/><line x1="2156.9" x2="2156.9" y1="884" y2="1408"/>
</g>
<line x1="1215" x2="2215" y1="1145.5" y2="1145.5" stroke="#ababab" stroke-width="4"/>
<line x1="1215" x2="2215" y1="907" y2="907" stroke="#f87676" stroke-width="3.5" stroke-dasharray="14,6"/>
<line x1="1215" x2="2215" y1="1384" y2="1384" stroke="#f87676" stroke-width="3.5" stroke-dasharray="14,6"/>
<text class="ttl" x="1715" y="873">Tendencia Temporal - Luz5</text>
<g class="yt"><text x="1207" y="907">1.00</text><text x="1207" y="966.6">0.75</text><text x="1207" y="1026.3">0.50</text><text x="1207" y="1085.9">0.25</text><text x="1207" y="1145.5">0.00</text><text x="1207" y="1205.1">−0.25</text><text x="1207" y="1264.7">−0.50</text><text x="1207" y="1324.4">−0.75</text><text x="1207" y="1384">−1.00</text></g>
<text class="lab" transform="translate(1134,1146) rotate(-90)" dominant-baseline="central">Tendencia (mV/muestra)</text>
<text class="lab" x="1715" y="1556">Archivo</text>
<line x1="1997" x2="2040" y1="911" y2="911" stroke="#f87676" stroke-width="4" stroke-dasharray="8,3"/><text class="lg" x="2054" y="911">+1 mV/muestra</text>
<line x1="1997" x2="2040" y1="940" y2="940" stroke="#f87676" stroke-width="3.5" stroke-dasharray="14,6"/><text class="lg" x="2054" y="940">-1 mV/muestra</text>
<g class="xl">
<text transform="translate(1274,1419) rotate(-90)">18medcolor.csv</text><text transform="translate(1306.7,1419) rotate(-90)">19medcolor.csv</text><text transform="translate(1339.4,1419) rotate(-90)">8medcolor.csv</text><text transform="translate(1372.1,1419) rotate(-90)">24medcolor.csv</text><text transform="translate(1404.8,1419) rotate(-90)">4medcolor.csv</text><text transform="translate(1437.5,1419) rotate(-90)">6medcolor.csv</text><text transform="translate(1470.2,1419) rotate(-90)">21medcolor.csv</text><text transform="translate(1502.9,1419) rotate(-90)">23medcolor.csv</text><text transform="translate(1535.6,1419) rotate(-90)">1medcolor.csv</text><text transform="translate(1568.3,1419) rotate(-90)">11medcolor.csv</text><text transform="translate(1601,1419) rotate(-90)">5medcolor.csv</text><text transform="translate(1633.7,1419) rotate(-90)">25medcolor.csv</text><text transform="translate(1666.4,1419) rotate(-90)">10medcolor.csv</text><text transform="translate(1699.1,1419) rotate(-90)">26medcolor.csv</text><text transform="translate(1731.8,1419) rotate(-90)">27medcolor.csv</text><text transform="translate(1764.5,1419) rotate(-90)">20medcolor.csv</text><text transform="translate(1797.2,1419) rotate(-90)">15medcolor.csv</text><text transform="translate(1829.9,1419) rotate(-90)">16medcolor.csv</text><text transform="translate(1862.6,1419) rotate(-90)">7medcolor.csv</text><text transform="translate(1895.3,1419) rotate(-90)">22medcolor.csv</text><text transform="translate(1928,1419) rotate(-90)">3medcolor.csv</text><text transform="translate(1960.7,1419) rotate(-90)">14medcolor.csv</text><text transform="translate(1993.4,1419) rotate(-90)">28medcolor.csv</text><text transform="translate(2026.1,1419) rotate(-90)">2medcolor.csv</text><text transform="translate(2058.8,1419) rotate(-90)">13medcolor.csv</text><text transform="translate(2091.5,1419) rotate(-90)">17medcolor.csv</text><text transform="translate(2124.2,1419) rotate(-90)">9medcolor.csv</text><text transform="translate(2156.9,1419) rotate(-90)">12medcolor.csv</text>
</g>

<!-- ===== Panel F: CV ===== -->
<rect x="2328" y="884" width="1001" height="524" fill="#eaeaf2"/>
<g class="g">
<line x1="2328" x2="3329" y1="1308.2" y2="1308.2"/><line x1="2328" x2="3329" y1="1208.4" y2="1208.4"/><line x1="2328" x2="3329" y1="1108.6" y2="1108.6"/><line x1="2328" x2="3329" y1="1008.8" y2="1008.8"/><line x1="2328" x2="3329" y1="909" y2="909"/>
<line x1="2387" x2="2387" y1="884" y2="1408"/><line x1="2419.7" x2="2419.7" y1="884" y2="1408"/><line x1="2452.4" x2="2452.4" y1="884" y2="1408"/><line x1="2485.1" x2="2485.1" y1="884" y2="1408"/><line x1="2517.8" x2="2517.8" y1="884" y2="1408"/><line x1="2550.5" x2="2550.5" y1="884" y2="1408"/><line x1="2583.2" x2="2583.2" y1="884" y2="1408"/><line x1="2615.9" x2="2615.9" y1="884" y2="1408"/><line x1="2648.6" x2="2648.6" y1="884" y2="1408"/><line x1="2681.3" x2="2681.3" y1="884" y2="1408"/><line x1="2714" x2="2714" y1="884" y2="1408"/><line x1="2746.7" x2="2746.7" y1="884" y2="1408"/><line x1="2779.4" x2="2779.4" y1="884" y2="1408"/><line x1="2812.1" x2="2812.1" y1="884" y2="1408"/><line x1="2844.8" x2="2844.8" y1="884" y2="1408"/><line x1="2877.5" x2="2877.5" y1="884" y2="1408"/><line x1="2910.2" x2="2910.2" y1="884" y2="1408"/><line x1="2942.9" x2="2942.9" y1="884" y2="1408"/><line x1="2975.6" x2="2975.6" y1="884" y2="1408"/><line x1="3008.3" x2="3008.3" y1="884" y2="1408"/><line x1="3041" x2="3041" y1="884" y2="1408"/><line x1="3073.7" x2="3073.7" y1="884" y2="1408"/><line x1="3106.4" x2="3106.4" y1="884" y2="1408"/><line x1="3139.1" x2="3139.1" y1="884" y2="1408"/><line x1="3171.8" x2="3171.8" y1="884" y2="1408"/><line x1="3204.5" x2="3204.5" y1="884" y2="1408"/><line x1="3237.2" x2="3237.2" y1="884" y2="1408"/><line x1="3269.9" x2="3269.9" y1="884" y2="1408"/>
</g>
<g class="bar">
<rect x="2374" y="1403.5" width="26" height="4.5"/><rect x="2406.7" y="1403.5" width="26" height="4.5"/><rect x="2439.4" y="1402.5" width="26" height="5.5"/><rect x="2472.1" y="1402.5" width="26" height="5.5"/><rect x="2504.8" y="1402.5" width="26" height="5.5"/><rect x="2537.5" y="1401" width="26" height="7"/><rect x="2570.2" y="1403.5" width="26" height="4.5"/><rect x="2602.9" y="1403.5" width="26" height="4.5"/><rect x="2635.6" y="1402.5" width="26" height="5.5"/><rect x="2668.3" y="1402.5" width="26" height="5.5"/><rect x="2701" y="1402.5" width="26" height="5.5"/><rect x="2733.7" y="1402.5" width="26" height="5.5"/><rect x="2766.4" y="1402.5" width="26" height="5.5"/><rect x="2799.1" y="1402.5" width="26" height="5.5"/><rect x="2831.8" y="1402.5" width="26" height="5.5"/><rect x="2864.5" y="1403.5" width="26" height="4.5"/><rect x="2897.2" y="1403.5" width="26" height="4.5"/><rect x="2929.9" y="1403.5" width="26" height="4.5"/><rect x="2962.6" y="1402.5" width="26" height="5.5"/><rect x="2995.3" y="1403.5" width="26" height="4.5"/><rect x="3028" y="1402.5" width="26" height="5.5"/><rect x="3060.7" y="1403.5" width="26" height="4.5"/><rect x="3093.4" y="1402.5" width="26" height="5.5"/><rect x="3126.1" y="1402.5" width="26" height="5.5"/><rect x="3158.8" y="1403.5" width="26" height="4.5"/><rect x="3191.5" y="1403.5" width="26" height="4.5"/><rect x="3224.2" y="1402.5" width="26" height="5.5"/><rect x="3256.9" y="1403.5" width="26" height="4.5"/>
</g>
<line x1="2328" x2="3329" y1="1308.2" y2="1308.2" stroke="#66b266" stroke-width="3.5" stroke-dasharray="14,6"/>
<line x1="2328" x2="3329" y1="1208.4" y2="1208.4" stroke="#f6c36b" stroke-width="3.5" stroke-dasharray="14,6"/>
<line x1="2328" x2="3329" y1="909" y2="909" stroke="#f87676" stroke-width="3.5" stroke-dasharray="14,6"/>
<text class="ttl" x="2828" y="873">Coeficiente de Variación - Luz5</text>
<g class="yt"><text x="2320" y="1408">0</text><text x="2320" y="1308.2">10</text><text x="2320" y="1208.4">20</text><text x="2320" y="1108.6">30</text><text x="2320" y="1008.8">40</text><text x="2320" y="909">50</text></g>
<text class="lab" transform="translate(2278,1146) rotate(-90)" dominant-baseline="central">Coef. Variación (%)</text>
<text class="lab" x="2828" y="1556">Archivo</text>
<line x1="3086" x2="3128" y1="1116" y2="1116" stroke="#66b266" stroke-width="3.5" stroke-dasharray="14,6"/><text class="lg" x="3144" y="1116">Excelente (&lt;10%)</text>
<line x1="3086" x2="3128" y1="1145" y2="1145" stroke="#f6c36b" stroke-width="3.5" stroke-dasharray="14,6"/><text class="lg" x="3144" y="1145">Aceptable (&lt;20%)</text>
<line x1="3086" x2="3128" y1="1174" y2="1174" stroke="#f87676" stroke-width="3.5" stroke-dasharray="14,6"/><text class="lg" x="3144" y="1174">Pobre (&gt;50%)</text>
<g class="xl">
<text transform="translate(2387,1419) rotate(-90)">18medcolor.csv</text><text transform="translate(2419.7,1419) rotate(-90)">19medcolor.csv</text><text transform="translate(2452.4,1419) rotate(-90)">8medcolor.csv</text><text transform="translate(2485.1,1419) rotate(-90)">24medcolor.csv</text><text transform="translate(2517.8,1419) rotate(-90)">4medcolor.csv</text><text transform="translate(2550.5,1419) rotate(-90)">6medcolor.csv</text><text transform="translate(2583.2,1419) rotate(-90)">21medcolor.csv</text><text transform="translate(2615.9,1419) rotate(-90)">23medcolor.csv</text><text transform="translate(2648.6,1419) rotate(-90)">1medcolor.csv</text><text transform="translate(2681.3,1419) rotate(-90)">11medcolor.csv</text><text transform="translate(2714,1419) rotate(-90)">5medcolor.csv</text><text transform="translate(2746.7,1419) rotate(-90)">25medcolor.csv</text><text transform="translate(2779.4,1419) rotate(-90)">10medcolor.csv</text><text transform="translate(2812.1,1419) rotate(-90)">26medcolor.csv</text><text transform="translate(2844.8,1419) rotate(-90)">27medcolor.csv</text><text transform="translate(2877.5,1419) rotate(-90)">20medcolor.csv</text><text transform="translate(2910.2,1419) rotate(-90)">15medcolor.csv</text><text transform="translate(2942.9,1419) rotate(-90)">16medcolor.csv</text><text transform="translate(2975.6,1419) rotate(-90)">7medcolor.csv</text><text transform="translate(3008.3,1419) rotate(-90)">22medcolor.csv</text><text transform="translate(3041,1419) rotate(-90)">3medcolor.csv</text><text transform="translate(3073.7,1419) rotate(-90)">14medcolor.csv</text><text transform="translate(3106.4,1419) rotate(-90)">28medcolor.csv</text><text transform="translate(3139.1,1419) rotate(-90)">2medcolor.csv</text><text transform="translate(3171.8,1419) rotate(-90)">13medcolor.csv</text><text transform="translate(3204.5,1419) rotate(-90)">17medcolor.csv</text><text transform="translate(3237.2,1419) rotate(-90)">9medcolor.csv</text><text transform="translate(3269.9,1419) rotate(-90)">12medcolor.csv</text>
</g>

<!-- ===== Panel G: Scatter ===== -->
<rect x="102" y="1615" width="1000" height="523" fill="#eaeaf2"/>
<g stroke="#f4f4f8" stroke-width="2">
<line x1="102" x2="1102" y1="1667" y2="1667"/><line x1="102" x2="1102" y1="1780.5" y2="1780.5"/><line x1="102" x2="1102" y1="1894" y2="1894"/><line x1="102" x2="1102" y1="2007.5" y2="2007.5"/><line x1="102" x2="1102" y1="2121" y2="2121"/>
<line x1="144" x2="144" y1="1615" y2="2138"/><line x1="276.4" x2="276.4" y1="1615" y2="2138"/><line x1="408.9" x2="408.9" y1="1615" y2="2138"/><line x1="541.3" x2="541.3" y1="1615" y2="2138"/><line x1="673.7" x2="673.7" y1="1615" y2="2138"/><line x1="806.1" x2="806.1" y1="1615" y2="2138"/><line x1="938.6" x2="938.6" y1="1615" y2="2138"/><line x1="1071" x2="1071" y1="1615" y2="2138"/>
</g>
<g fill="#3344bb" fill-opacity="0.7" stroke="#2a3a9a" stroke-width="1.5">
<circle cx="443.7" cy="1638.5" r="11"/><circle cx="147.4" cy="1720.3" r="11"/><circle cx="184" cy="1722.4" r="11"/><circle cx="278.7" cy="1726.5" r="11"/><circle cx="1056.8" cy="1768.7" r="11"/><circle cx="517" cy="1816.2" r="11"/><circle cx="1054" cy="1849.3" r="11"/><circle cx="1056" cy="1849.3" r="11"/><circle cx="1032" cy="1897.6" r="11"/><circle cx="1040.7" cy="1898.8" r="11"/><circle cx="364.5" cy="1921.6" r="11"/><circle cx="563.3" cy="1955.5" r="11"/><circle cx="644" cy="1960" r="11"/><circle cx="707.7" cy="1981.5" r="11"/><circle cx="764.2" cy="1981.5" r="11"/><circle cx="801.6" cy="1980.7" r="11"/><circle cx="836.8" cy="2012.5" r="11"/><circle cx="868.3" cy="2029" r="11"/><circle cx="888.2" cy="2035.2" r="11"/><circle cx="924.8" cy="2045.5" r="11"/><circle cx="947.6" cy="2055.9" r="11"/><circle cx="971.8" cy="2055.9" r="11"/><circle cx="984.2" cy="2062" r="11"/><circle cx="1019.4" cy="2060" r="11"/><circle cx="1018" cy="2072.4" r="11"/><circle cx="986.4" cy="2081.5" r="11"/><circle cx="1002.6" cy="2101.3" r="11"/><circle cx="1012.8" cy="2115.8" r="11"/>
</g>
<g class="an">
<text x="445" y="1640">6medcolor.csv</text><text x="148" y="1722">2medcolor.csv</text><text x="185" y="1725">3medcolor.csv</text><text x="280" y="1729">4medcolor.csv</text><text x="1058" y="1771">28medcolor.csv</text><text x="518" y="1818">1medcolor.csv</text><text x="1055" y="1851">26medcolor.csv</text><text x="1057" y="1851">27medcolor.csv</text><text x="1033" y="1900">24medcolor.csv</text><text x="1042" y="1901">25medcolor.csv</text><text x="366" y="1924">5medcolor.csv</text><text x="564" y="1957">7medcolor.csv</text><text x="645" y="1962">8medcolor.csv</text><text x="709" y="1984">9medcolor.csv</text><text x="765" y="1984">10medcolor.csv</text><text x="803" y="1983">11medcolor.csv</text><text x="838" y="2015">12medcolor.csv</text><text x="869" y="2031">13medcolor.csv</text><text x="889" y="2037">14medcolor.csv</text><text x="926" y="2048">15medcolor.csv</text><text x="949" y="2058">16medcolor.csv</text><text x="973" y="2058">17medcolor.csv</text><text x="985" y="2064">18medcolor.csv</text><text x="1020" y="2062">23medcolor.csv</text><text x="1019" y="2075">22medcolor.csv</text><text x="987" y="2084">19medcolor.csv</text><text x="1004" y="2103">20medcolor.csv</text><text x="1014" y="2118">21medcolor.csv</text>
</g>
<text class="ttl" x="602" y="1601">Media vs Desviación - Luz5</text>
<g class="yt"><text x="94" y="1667">0.017</text><text x="94" y="1780.5">0.016</text><text x="94" y="1894">0.015</text><text x="94" y="2007.5">0.014</text><text x="94" y="2121">0.013</text></g>
<g class="tk" text-anchor="middle"><text x="144" y="2164">2.912</text><text x="276.4" y="2164">2.914</text><text x="408.9" y="2164">2.916</text><text x="541.3" y="2164">2.918</text><text x="673.7" y="2164">2.920</text><text x="806.1" y="2164">2.922</text><text x="938.6" y="2164">2.924</text><text x="1071" y="2164">2.926</text></g>
<text class="lab" transform="translate(22,1876) rotate(-90)" dominant-baseline="central">Desviación Estándar (V)</text>
<text class="lab" x="602" y="2198">Media (V)</text>

<!-- ===== Summary ===== -->
<g class="mono">
<text x="1423" y="1781">RESUMEN EJECUTIVO - Luz5</text>
<text x="1423" y="1806">Total archivos: 28</text>
<text x="1423" y="1856">MEJOR CALIDAD: 21medcolor.csv (9.7/10)</text>
<text x="1423" y="1881">PEOR CALIDAD: 6medcolor.csv (9.5/10)</text>
<text x="1423" y="1931">ESTADÍSTICAS:</text>
<text x="1423" y="1956">• Calidad promedio: 9.6/10</text>
<text x="1423" y="1981">• SNR promedio: 46.1 dB</text>
<text x="1423" y="2006">• Media global: 2.922 V</text>
</g>
</svg>
</body></html>
